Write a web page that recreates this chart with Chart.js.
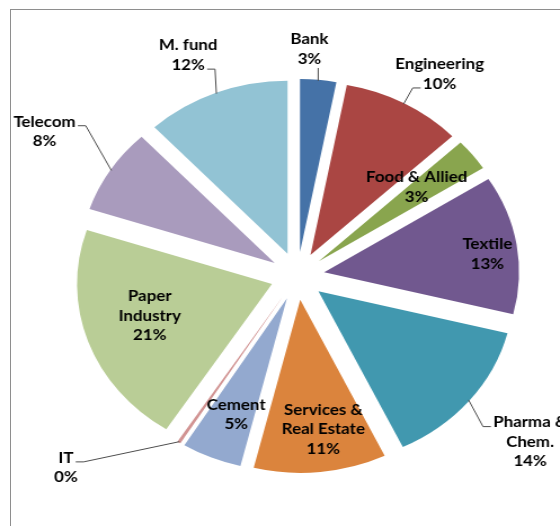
<!DOCTYPE html>
<html>
<head>
<meta charset="utf-8">
<script src="https://cdn.jsdelivr.net/npm/chart.js@4.4.1/dist/chart.umd.min.js"></script>
<style>
  html, body { margin: 0; padding: 0; background: #fff; }
  #wrap { position: relative; width: 560px; height: 526px; overflow: hidden; }
  #frame { position: absolute; left: 10px; top: 9px; width: 600px; height: 600px;
           border-left: 1px solid #8e8e8e; border-top: 1px solid #8e8e8e; }
  /* the original picture is stretched sideways, so the canvas is too */
  canvas { position: absolute; left: 0; top: 0; transform: scaleX(1.1267); transform-origin: 0 0; }
</style>
</head>
<body>
<div id="wrap">
  <div id="frame"></div>
  <canvas id="pieChart" width="528" height="526"></canvas>
</div>
<script>
// sectors and their share (%)
const sectors = [["Bank"], ["Engineering"], ["Food & Allied"], ["Textile"], ["Pharma &", "Chem."],
                 ["Services &", "Real Estate"], ["Cement"], ["IT"], ["Paper", "Industry"], ["Telecom"], ["M. fund"]];
const shares = [3, 10, 3, 13, 14, 11, 5, 0.3, 21, 8, 12];
const sliceColors = ["#4572A7", "#AA4643", "#89A54E", "#71588F", "#4198AF", "#DB843D",
                     "#93A9CF", "#D19392", "#B9CD96", "#A99BBD", "#92C3D4"];

// label placement: distance from centre, angle shift in degrees, leader line [line, side]
const labelPlace = [
  [227, -2.7, "up"],
  [238, 3.3, [1, "left"]],
  [138, -2, null],
  [170, 1.8, null],
  [265, -0.4, [0, "left"]],
  [155, -2.6, null],
  [149, -1.4, null],
  [281, 14.7, [0, "right"]],
  [137, 2.6, null],
  [267, 0.2, [0, "right"]],
  [241, -2.2, [1, "right"]]
];

const EXPLODE = 24;
const RADIUS = 173;
const LINE_H = 19.5;

const total = shares.reduce((a, b) => a + b, 0);

// push every slice out along its middle angle
const explodePlugin = {
  id: "explode",
  afterDatasetUpdate(chart, args) {
    args.meta.data.forEach(arc => {
      const mid = (arc.startAngle + arc.endAngle) / 2;
      arc.x += Math.cos(mid) * EXPLODE;
      arc.y += Math.sin(mid) * EXPLODE;
    });
  }
};

const labelPlugin = {
  id: "sliceLabels",
  afterDraw(chart) {
    const ctx = chart.ctx;
    const area = chart.chartArea;
    const cx0 = (area.left + area.right) / 2;
    const cy0 = (area.top + area.bottom) / 2;
    const arcs = chart.getDatasetMeta(0).data;
    ctx.save();
    ctx.font = "bold 15px Lato";
    ctx.textAlign = "center";
    ctx.textBaseline = "middle";
    arcs.forEach((arc, i) => {
      const mid = (arc.startAngle + arc.endAngle) / 2;
      const [dist, shift, leader] = labelPlace[i];
      const a = mid + shift * Math.PI / 180;
      const lx = cx0 + Math.cos(a) * dist;
      const ly = cy0 + Math.sin(a) * dist;
      const lines = sectors[i].concat([Math.round(shares[i] / total * 100) + "%"]);
      const y0 = ly - (lines.length - 1) * LINE_H / 2;

      if (leader) {
        const px = cx0 + Math.cos(mid) * (RADIUS + EXPLODE - 1);
        const py = cy0 + Math.sin(mid) * (RADIUS + EXPLODE - 1);
        ctx.strokeStyle = "#4d4d4d";
        ctx.lineWidth = 1;
        ctx.beginPath();
        ctx.moveTo(px, py);
        if (leader === "up") {
          ctx.lineTo(px, y0 + (lines.length - 1) * LINE_H + 9);
        } else {
          const [li, side] = leader;
          const w = ctx.measureText(lines[li]).width;
          const yy = y0 + li * LINE_H + 4;
          const ex = side === "left" ? lx - w / 2 - 2 : lx + w / 2 + 2;
          const bx = side === "left" ? ex - 7 : ex + 7;
          ctx.lineTo(bx, yy);
          ctx.lineTo(ex, yy);
        }
        ctx.stroke();
      }

      ctx.fillStyle = "#000";
      lines.forEach((t, k) => ctx.fillText(t, lx, y0 + k * LINE_H));
    });
    ctx.restore();
  }
};

new Chart(document.getElementById("pieChart"), {
  type: "pie",
  data: {
    labels: sectors,
    datasets: [{
      data: shares,
      backgroundColor: sliceColors,
      borderWidth: 0,
      clip: false
    }]
  },
  options: {
    responsive: false,
    animation: false,
    radius: RADIUS,
    events: [],
    layout: { padding: { left: 0, right: 0, top: 26, bottom: 0 } },
    plugins: {
      legend: { display: false },
      tooltip: { enabled: false }
    }
  },
  plugins: [explodePlugin, labelPlugin]
});
</script>
</body>
</html>
